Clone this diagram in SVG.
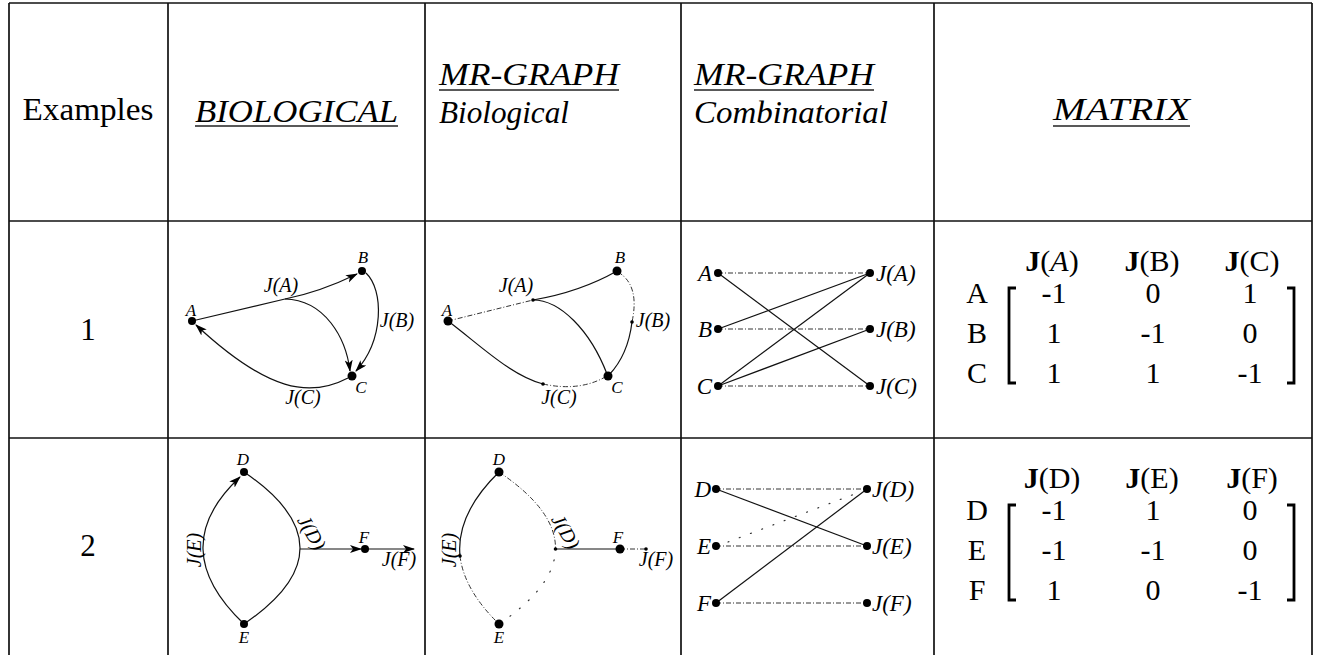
<svg xmlns="http://www.w3.org/2000/svg" width="1322" height="655" viewBox="0 0 1322 655">
<style>
text{font-family:"Liberation Serif","DejaVu Serif",serif;fill:#000}
.hd{font-size:31px}
.it{font-style:italic}
.ul{stroke:#222;stroke-width:1.3}
.grid{stroke:#111;stroke-width:1.7;fill:none}
.lb{font-size:20px;font-style:italic}
.lbs{font-size:17px;font-style:italic}
.lbc{font-size:23px;font-style:italic}
.mx{font-size:30px}
.e{fill:none;stroke:#111;stroke-width:1.2}
.dd{fill:none;stroke:#333;stroke-width:1;stroke-dasharray:5 2 1 2}
.dt{fill:none;stroke:#333;stroke-width:1.2;stroke-dasharray:1 11;stroke-linecap:round}
.ar{marker-end:url(#stealth)}
.n{fill:#000}
.br{fill:none;stroke:#000;stroke-width:2.8}
</style>
<defs>
<marker id="stealth" markerUnits="userSpaceOnUse" markerWidth="13" markerHeight="9" refX="11" refY="4" orient="auto">
<path d="M0,0 L12,4 L0,8 L3,4 Z" fill="#000"/>
</marker>
</defs>
<rect width="1322" height="655" fill="#fff"/>
<g id="table">
<line class="grid" x1="9" y1="3" x2="1312" y2="3"/>
<line class="grid" x1="9" y1="221" x2="1312" y2="221"/>
<line class="grid" x1="9" y1="438" x2="1312" y2="438"/>
<line class="grid" x1="9" y1="3" x2="9" y2="655"/>
<line class="grid" x1="168" y1="3" x2="168" y2="655"/>
<line class="grid" x1="425" y1="3" x2="425" y2="655"/>
<line class="grid" x1="681" y1="3" x2="681" y2="655"/>
<line class="grid" x1="934" y1="3" x2="934" y2="655"/>
<line class="grid" x1="1312" y1="3" x2="1312" y2="655"/>
</g>
<g id="header">
<text class="hd" x="88" y="120" text-anchor="middle" textLength="131" lengthAdjust="spacingAndGlyphs">Examples</text>
<text class="hd it" x="195" y="122" textLength="203" lengthAdjust="spacingAndGlyphs">BIOLOGICAL</text>
<line class="ul" x1="195" y1="126" x2="398" y2="126"/>
<text class="hd it" x="439" y="85" textLength="180" lengthAdjust="spacingAndGlyphs">MR-GRAPH</text>
<line class="ul" x1="439" y1="90" x2="619" y2="90"/>
<text class="hd it" x="439" y="123" textLength="130" lengthAdjust="spacingAndGlyphs">Biological</text>
<text class="hd it" x="694" y="85" textLength="180" lengthAdjust="spacingAndGlyphs">MR-GRAPH</text>
<line class="ul" x1="694" y1="90" x2="874" y2="90"/>
<text class="hd it" x="694" y="123" textLength="194" lengthAdjust="spacingAndGlyphs">Combinatorial</text>
<text class="hd it" x="1053" y="120" textLength="137" lengthAdjust="spacingAndGlyphs">MATRIX</text>
<line class="ul" x1="1053" y1="126" x2="1190" y2="126"/>
<text class="hd" x="88" y="340" text-anchor="middle">1</text>
<text class="hd" x="88" y="556" text-anchor="middle">2</text>
</g>
<g id="connectors">
<path class="e ar" d="M192,321 L285,299 Q320,292 357,274"/>
<path class="e ar" d="M285,299 C325,300 346,338 350,371"/>
<path class="e ar" d="M366,273 C384,290 384,340 356,371"/>
<path class="e ar" d="M348,378 C310,398 268,392 196,325"/>
<path class="dd" d="M448,321 L533,300"/>
<path class="e" d="M533,300 Q580,292 617,271"/>
<path class="e" d="M533,300 C560,300 590,330 607,374"/>
<path class="dd" d="M618,272 Q640,285 632,322"/>
<path class="e" d="M632,322 Q628,355 609,375"/>
<path class="e" d="M448,321 C480,345 510,375 543,384"/>
<path class="dd" d="M543,384 Q580,392 607,376"/>
<path class="dd" d="M718,273 L870,273"/>
<path class="dd" d="M718,329 L870,329"/>
<path class="dd" d="M718,386 L870,386"/>
<path class="e" d="M718,273 L870,386"/>
<path class="e" d="M718,329 L870,273"/>
<path class="e" d="M718,386 L870,273"/>
<path class="e" d="M718,386 L870,329"/>
<path class="ar e" d="M244,624 Q164,548 240,477"/>
<path class="e" d="M244,472 Q356,548 244,624"/>
<path class="e ar" d="M300,549 L361,549"/>
<path class="e ar" d="M365,549 L414,549"/>
<path class="e" d="M499,472 Q456,514 460,556"/>
<path class="dd" d="M460,556 Q464,590 499,624"/>
<path class="dd" d="M499,472 Q555.5,510 555.5,548"/>
<path class="dt" d="M555.5,548 Q555.5,586 499,624"/>
<path class="e" d="M555.5,549 L620,549"/>
<path class="dd" d="M620,549 L646,549"/>
<path class="dd" d="M716,489 L867,489"/>
<path class="dd" d="M716,546 L867,546"/>
<path class="dd" d="M716,603 L867,603"/>
<path class="e" d="M716,489 L867,546"/>
<path class="e" d="M716,603 L867,489"/>
<path class="dt" d="M728,542 L860,492"/>
</g>
<g id="r1-bio">
<g id="r1b-A"><circle class="n" cx="192" cy="321" r="4"/><text class="lbs" x="191" y="316" text-anchor="middle">A</text></g>
<g id="r1b-B"><circle class="n" cx="362" cy="271" r="4"/><text class="lbs" x="363" y="263" text-anchor="middle">B</text></g>
<g id="r1b-C"><circle class="n" cx="352" cy="376" r="4.5"/><text class="lbs" x="361" y="393" text-anchor="middle">C</text></g>
<text class="lb" x="281" y="292" text-anchor="middle">J(A)</text>
<text class="lb" x="397" y="327" text-anchor="middle">J(B)</text>
<text class="lb" x="303" y="404" text-anchor="middle">J(C)</text>
</g>
<g id="r1-mrbio">
<g id="r1m-A"><circle class="n" cx="448" cy="321" r="4.5"/><text class="lbs" x="447" y="316" text-anchor="middle">A</text></g>
<g id="r1m-B"><circle class="n" cx="617" cy="271" r="4.5"/><text class="lbs" x="620" y="263" text-anchor="middle">B</text></g>
<g id="r1m-C"><circle class="n" cx="608" cy="376" r="4.5"/><text class="lbs" x="617" y="393" text-anchor="middle">C</text></g>
<g id="r1m-JA"><circle class="n" cx="533" cy="300" r="1.8"/><text class="lb" x="516" y="292" text-anchor="middle">J(A)</text></g>
<g id="r1m-JB"><circle class="n" cx="632" cy="322" r="1.8"/><text class="lb" x="653" y="327" text-anchor="middle">J(B)</text></g>
<g id="r1m-JC"><circle class="n" cx="543" cy="384" r="1.8"/><text class="lb" x="559" y="404" text-anchor="middle">J(C)</text></g>
</g>
<g id="r1-comb">
<g id="r1c-A"><circle class="n" cx="718" cy="273" r="4"/><text class="lbc" x="712" y="281" text-anchor="end">A</text></g>
<g id="r1c-B"><circle class="n" cx="718" cy="329" r="4"/><text class="lbc" x="712" y="337" text-anchor="end">B</text></g>
<g id="r1c-C"><circle class="n" cx="718" cy="386" r="4"/><text class="lbc" x="712" y="394" text-anchor="end">C</text></g>
<g id="r1c-JA"><circle class="n" cx="870" cy="273" r="4"/><text class="lbc" x="876" y="281">J(A)</text></g>
<g id="r1c-JB"><circle class="n" cx="870" cy="329" r="4"/><text class="lbc" x="876" y="337">J(B)</text></g>
<g id="r1c-JC"><circle class="n" cx="870" cy="386" r="4"/><text class="lbc" x="876" y="394">J(C)</text></g>
</g>
<g id="r1-matrix">
<text class="mx" x="1052" y="271" text-anchor="middle"><tspan font-weight="bold">J</tspan>(<tspan font-style="italic">A</tspan>)</text>
<text class="mx" x="1152" y="271" text-anchor="middle"><tspan font-weight="bold">J</tspan>(B)</text>
<text class="mx" x="1252" y="271" text-anchor="middle"><tspan font-weight="bold">J</tspan>(C)</text>
<text class="mx" x="977" y="303" text-anchor="middle">A</text>
<text class="mx" x="977" y="343" text-anchor="middle">B</text>
<text class="mx" x="977" y="383" text-anchor="middle">C</text>
<path class="br" d="M1016,288 H1009 V383 H1016"/>
<path class="br" d="M1287,288 H1294 V383 H1287"/>
<text class="mx" x="1054" y="303" text-anchor="middle">-1</text>
<text class="mx" x="1153" y="303" text-anchor="middle">0</text>
<text class="mx" x="1250" y="303" text-anchor="middle">1</text>
<text class="mx" x="1054" y="343" text-anchor="middle">1</text>
<text class="mx" x="1153" y="343" text-anchor="middle">-1</text>
<text class="mx" x="1250" y="343" text-anchor="middle">0</text>
<text class="mx" x="1054" y="383" text-anchor="middle">1</text>
<text class="mx" x="1153" y="383" text-anchor="middle">1</text>
<text class="mx" x="1250" y="383" text-anchor="middle">-1</text>
</g>
<g id="r2-bio">
<g id="r2b-D"><circle class="n" cx="244" cy="472" r="4"/><text class="lbs" x="243" y="465" text-anchor="middle">D</text></g>
<g id="r2b-E"><circle class="n" cx="244" cy="624" r="4"/><text class="lbs" x="244" y="643" text-anchor="middle">E</text></g>
<g id="r2b-F"><circle class="n" cx="365" cy="549" r="4"/><text class="lbs" x="364" y="543" text-anchor="middle">F</text></g>
<text class="lb" x="399" y="566" text-anchor="middle">J(F)</text>
<text class="lb" transform="translate(201,550) rotate(-90)" text-anchor="middle">J(E)</text>
<text class="lb" transform="translate(306,536) rotate(60)" text-anchor="middle">J(D)</text>
</g>
<g id="r2-mrbio">
<g id="r2m-D"><circle class="n" cx="499" cy="472" r="4.5"/><text class="lbs" x="499" y="465" text-anchor="middle">D</text></g>
<g id="r2m-E"><circle class="n" cx="499" cy="624" r="4.5"/><text class="lbs" x="499" y="643" text-anchor="middle">E</text></g>
<g id="r2m-F"><circle class="n" cx="620" cy="549" r="4.5"/><text class="lbs" x="618" y="543" text-anchor="middle">F</text></g>
<g id="r2m-JE"><circle class="n" cx="460" cy="556" r="1.8"/><text class="lb" transform="translate(456,550) rotate(-90)" text-anchor="middle">J(E)</text></g>
<g id="r2m-JD"><circle class="n" cx="555.5" cy="549" r="1.8"/><text class="lb" transform="translate(560,535) rotate(60)" text-anchor="middle">J(D)</text></g>
<g id="r2m-JF"><circle class="n" cx="646" cy="549" r="1.8"/><text class="lb" x="656" y="566" text-anchor="middle">J(F)</text></g>
</g>
<g id="r2-comb">
<g id="r2c-D"><circle class="n" cx="716" cy="489" r="4"/><text class="lbc" x="711" y="497" text-anchor="end">D</text></g>
<g id="r2c-E"><circle class="n" cx="716" cy="546" r="4"/><text class="lbc" x="711" y="554" text-anchor="end">E</text></g>
<g id="r2c-F"><circle class="n" cx="716" cy="603" r="4"/><text class="lbc" x="711" y="611" text-anchor="end">F</text></g>
<g id="r2c-JD"><circle class="n" cx="867" cy="489" r="4"/><text class="lbc" x="872" y="497">J(D)</text></g>
<g id="r2c-JE"><circle class="n" cx="867" cy="546" r="4"/><text class="lbc" x="872" y="554">J(E)</text></g>
<g id="r2c-JF"><circle class="n" cx="867" cy="603" r="4"/><text class="lbc" x="872" y="611">J(F)</text></g>
</g>
<g id="r2-matrix">
<text class="mx" x="1052" y="488" text-anchor="middle"><tspan font-weight="bold">J</tspan>(D)</text>
<text class="mx" x="1152" y="488" text-anchor="middle"><tspan font-weight="bold">J</tspan>(E)</text>
<text class="mx" x="1252" y="488" text-anchor="middle"><tspan font-weight="bold">J</tspan>(F)</text>
<text class="mx" x="977" y="520" text-anchor="middle">D</text>
<text class="mx" x="977" y="560" text-anchor="middle">E</text>
<text class="mx" x="977" y="600" text-anchor="middle">F</text>
<path class="br" d="M1016,505 H1009 V600 H1016"/>
<path class="br" d="M1287,505 H1294 V600 H1287"/>
<text class="mx" x="1054" y="520" text-anchor="middle">-1</text>
<text class="mx" x="1153" y="520" text-anchor="middle">1</text>
<text class="mx" x="1250" y="520" text-anchor="middle">0</text>
<text class="mx" x="1054" y="560" text-anchor="middle">-1</text>
<text class="mx" x="1153" y="560" text-anchor="middle">-1</text>
<text class="mx" x="1250" y="560" text-anchor="middle">0</text>
<text class="mx" x="1054" y="600" text-anchor="middle">1</text>
<text class="mx" x="1153" y="600" text-anchor="middle">0</text>
<text class="mx" x="1250" y="600" text-anchor="middle">-1</text>
</g>
</svg>
